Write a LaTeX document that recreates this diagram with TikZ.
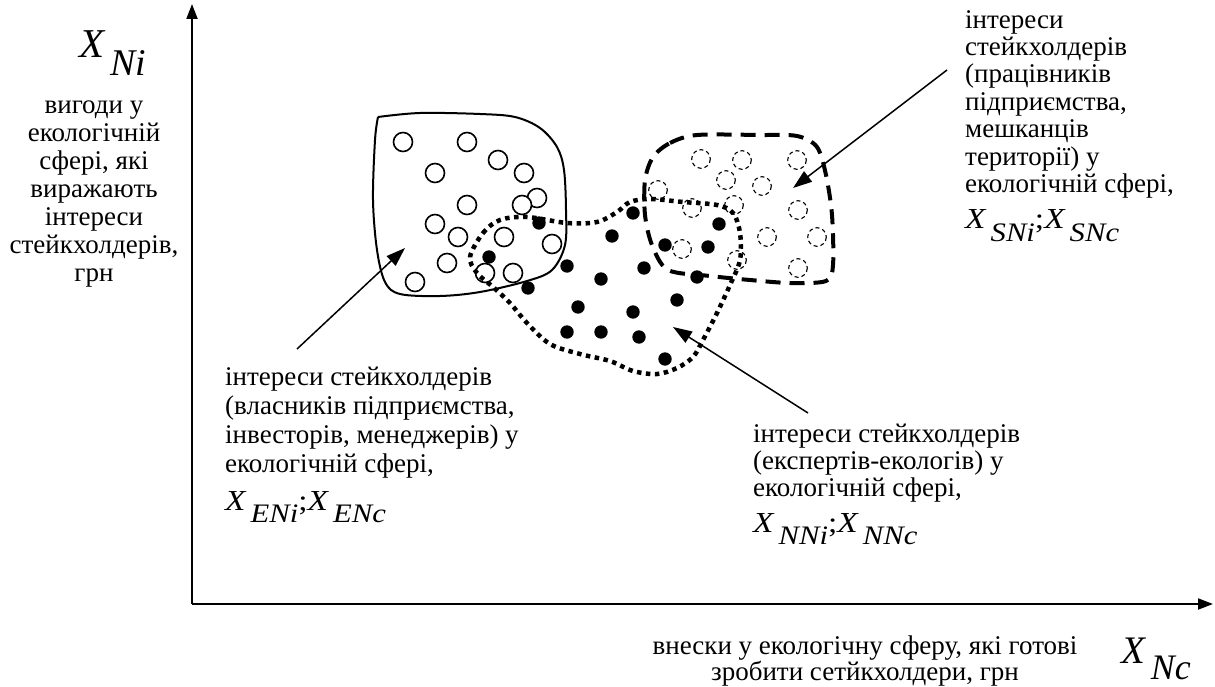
\documentclass[tikz,border=0pt]{standalone}
\usepackage{fontspec}
\setmainfont{Liberation Serif}
\usetikzlibrary{arrows.meta}

% italic X with a lowered italic subscript, as in the equation editor
\newcommand\symX[1]{\textit{X}\kern0.12em\raisebox{-0.42em}{\textit{\scalebox{0.92}{#1}}}}
% a pair of such symbols, set slightly wide
\newcommand\symPair[2]{\scalebox{1.15}[1]{\symX{#1};\symX{#2}}}

\tikzset{
  axis/.style={line width=2pt, -{Triangle[length=15pt,width=11pt]}},
  pointer/.style={line width=1.5pt, -{Triangle[length=19pt,width=13pt]}},
  txt/.style={inner sep=0pt, execute at begin node=\strut},
  formula/.style={font=\fontsize{29}{29}\selectfont, inner sep=0pt, anchor=base west},
  bigformula/.style={font=\fontsize{41}{41}\selectfont, inner sep=0pt, anchor=base west},
  solidblob/.style={line width=2pt, line join=round},
  dottedblob/.style={line width=4.5pt, dash pattern=on 4.5pt off 4.5pt},
  dashedblob/.style={line width=4pt, dash pattern=on 15pt off 9pt},
  opendot/.style={line width=1.6pt},
  filldot/.style={fill=black},
  dashdot/.style={line width=1.1pt, dash pattern=on 4pt off 3pt},
}

\begin{document}
\begin{tikzpicture}[x=1pt, y=-1pt]
\useasboundingbox (0,0) rectangle (1215,687);

% axes
\coordinate (O) at (192,604);
\coordinate (ytop) at (192,4);
\coordinate (xend) at (1213,604);
\draw[axis] (O) -- (ytop);
\draw[axis] (O) -- (xend);

% axis labels
\node[bigformula] (xni) at (79,58) {\symX{Ni}};
\node[txt, align=center, anchor=north, font=\fontsize{27}{28}\selectfont] (ylabel) at (94,101)
  {вигоди у\\екологічній\\сфері, які\\виражають\\інтереси\\стейкхолдерів,\\грн};
\node[txt, align=center, anchor=north, font=\fontsize{27}{26}\selectfont] (xlabel) at (865,636)
  {внески у екологічну сферу, які готові\\зробити сетйкхолдери, грн};
\node[bigformula, font=\fontsize{39}{39}\selectfont] (xnc) at (1121,663) {\symX{Nc}};

% owners, investors, managers
\draw[solidblob] plot[smooth, tension=0.55] coordinates {
  (378,117) (420,113) (480,114) (515,117) (540,128) (557,147) (564,170)
  (566,210) (565,245) (552,270) (527,281) (480,292) (440,296) (400,294)
  (385,282) (377,250) (373,200) (375,140) (378,117)};
\foreach \p in {(403,142),(467,142),(498,160),(435,173),(524,173),(467,205),
  (537,198),(522,205),(435,224),(458,237),(504,237),(552,244),(447,263),
  (485,273),(513,273),(415,282)}
  \draw[opendot, fill=white] \p circle (9.5);

% employees and residents
\draw[dashedblob] plot[smooth cycle, tension=0.5] coordinates {
  (653,157) (670,143) (697,135) (760,135) (797,136) (817,147) (826,175)
  (832,215) (833,265) (826,281) (790,283) (750,280) (710,276) (668,270)
  (652,245) (645,215) (645,180)};
\foreach \p in {(701,159),(742,160),(797,160),(726,180),(762,186),(658,190),
  (692,208),(734,205),(798,210),(767,237),(817,237),(682,249),(737,260),(798,268)}
  \draw[dashdot] \p circle (9.3);

% ecology experts
\draw[dottedblob] plot[smooth cycle, tension=0.55] coordinates {
  (470,257) (483,233) (500,220) (527,217) (567,223) (597,222) (617,212)
  (630,202) (650,199) (683,202) (717,205) (733,213) (740,233) (740,260)
  (730,285) (717,313) (703,340) (693,357) (677,368) (657,374) (633,371)
  (610,361) (580,354) (550,344) (527,323) (510,303) (493,287) (477,273)};
\foreach \p in {(539,223),(489,257),(567,266),(528,288),(633,213),(612,236),
  (665,245),(708,247),(719,224),(644,268),(601,279),(697,277),(578,307),
  (633,312),(677,300),(567,332),(601,332),(639,337),(665,359)}
  \fill[filldot] \p circle (6.7);

% group labels
\node[txt, align=left, anchor=north west, font=\fontsize{27}{27.4}\selectfont] (sn) at (965,10)
  {інтереси\\стейкхолдерів\\(працівників\\підприємства,\\мешканців\\території) у\\екологічній сфері,};
\node[formula] (snf) at (965,229) {\symPair{SNi}{SNc}};

\node[txt, align=left, anchor=north west, font=\fontsize{27}{29}\selectfont] (en) at (225,367)
  {інтереси стейкхолдерів\\(власників підприємства,\\інвесторів, менеджерів) у\\екологічній сфері,};
\node[formula] (enf) at (225,510) {\symPair{ENi}{ENc}};

\node[txt, align=left, anchor=north west, font=\fontsize{27}{27}\selectfont] (nn) at (753,424)
  {інтереси стейкхолдерів\\(експертів-екологів) у\\екологічній сфері,};
\node[formula] (nnf) at (753,532) {\symPair{NNi}{NNc}};

% pointers from labels into the groups
\coordinate (enTail) at (297,349);
\coordinate (enTip) at (405,248);
\coordinate (nnTail) at (808,413);
\coordinate (nnTip) at (673,327);
\coordinate (snTail) at (947,70);
\coordinate (snTip) at (793,188);
\draw[pointer] (enTail) -- (enTip);
\draw[pointer] (nnTail) -- (nnTip);
\draw[pointer] (snTail) -- (snTip);
\end{tikzpicture}
\end{document}
